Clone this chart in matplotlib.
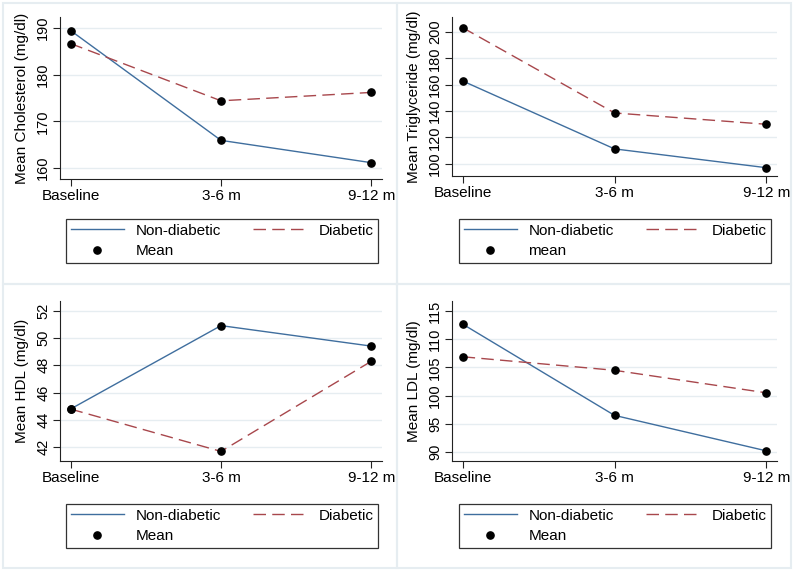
import numpy as np
import matplotlib
matplotlib.use("Agg")
import matplotlib.pyplot as plt
from matplotlib.lines import Line2D

plt.rcParams["font.family"] = ["Liberation Sans", "DejaVu Sans"]

# ---- data ----
periods = ["Baseline", "3-6 m", "9-12 m"]

chol_nondiab = [189.5, 165.9, 161.1]
chol_diab = [186.7, 174.4, 176.2]

trig_nondiab = [162.8, 111.2, 96.9]
trig_diab = [203.3, 138.5, 129.9]

hdl_nondiab = [44.8, 50.9, 49.4]
hdl_diab = [44.8, 41.7, 48.3]

ldl_nondiab = [112.7, 96.5, 90.2]
ldl_diab = [106.9, 104.5, 100.5]

panels = [
    # (non-diab, diab, ylabel, yticks, ylim, marker label)
    (chol_nondiab, chol_diab, "Mean Cholesterol (mg/dl)", [160, 170, 180, 190], (157.6, 192.4), "Mean"),
    (trig_nondiab, trig_diab, "Mean Triglyceride (mg/dl)", [100, 120, 140, 160, 180, 200], (90.6, 211.4), "mean"),
    (hdl_nondiab, hdl_diab, "Mean HDL (mg/dl)", [42, 44, 46, 48, 50, 52], (41.0, 52.7), "Mean"),
    (ldl_nondiab, ldl_diab, "Mean LDL (mg/dl)", [90, 95, 100, 105, 110, 115], (88.4, 116.8), "Mean"),
]

W, H = 794, 571
BLUE = "#3f6e9e"
RED = "#a8474c"
GRID = "#e6edf1"
FS = 11

fig = plt.figure(figsize=(W / 100, H / 100), dpi=100)


def frac(l, t, r, b):
    """pixel box (left, top, right, bottom) -> figure fraction rect"""
    return [l / W, 1 - b / H, (r - l) / W, (b - t) / H]


# panel frames (light lines like the Stata graph region)
for (l, t, r, b) in [(3, 3, 397, 284), (397, 3, 791, 284),
                     (3, 284, 397, 568), (397, 284, 791, 568)]:
    fig.patches.append(plt.Rectangle((l / W, 1 - b / H), (r - l) / W, (b - t) / H,
                                     transform=fig.transFigure, fill=False,
                                     edgecolor=GRID, lw=1.5))

axes_px = [(60, 17, 382, 179), (452, 17, 777, 176),
           (60, 301, 382, 461), (452, 301, 777, 461)]
legend_px = [(66, 212, 378, 263), (459, 212, 771, 263),
             (66, 497, 378, 548), (459, 497, 771, 548)]

x = np.arange(len(periods))
for (nd, d, ylab, yt, yl, mlab), apx, lpx in zip(panels, axes_px, legend_px):
    ax = fig.add_axes(frac(*apx))
    ax.plot(x, nd, color=BLUE, lw=1.0, zorder=3)
    ax.plot(x, d, color=RED, lw=1.0, dashes=(9, 4.5), zorder=3)
    ax.plot(x, nd, "o", color="black", ms=5.2, zorder=4)
    ax.plot(x, d, "o", color="black", ms=5.2, zorder=4)
    ax.set_xlim(-0.07, 2.07)
    ax.set_ylim(*yl)
    ax.set_xticks(x)
    ax.set_xticklabels(periods, fontsize=FS)
    ax.set_yticks(yt)
    ax.set_yticklabels([str(v) for v in yt], fontsize=FS - 0.5, rotation=90, va="center")
    ax.set_ylabel(ylab, fontsize=FS, labelpad=5)
    ax.grid(axis="y", color=GRID, lw=1.0)
    ax.set_axisbelow(True)
    for s in ("top", "right"):
        ax.spines[s].set_visible(False)
    for s in ("left", "bottom"):
        ax.spines[s].set_linewidth(0.8)
        ax.spines[s].set_color("#222222")
    ax.tick_params(length=5, width=0.8, color="#222222", pad=2)

    handles = [Line2D([], [], color=BLUE, lw=1.0),
               Line2D([], [], ls="none", marker="o", color="black", ms=5.2),
               Line2D([], [], color=RED, lw=1.0, dashes=(9, 4.5))]
    labels = ["Non-diabetic", mlab, "Diabetic"]
    l, t, r, b = lpx
    leg = fig.legend(handles, labels, ncol=2, mode="expand", fontsize=FS,
                     bbox_to_anchor=(l / W, 1 - b / H, (r - l) / W, (b - t) / H),
                     loc="lower left", borderaxespad=0, fancybox=False,
                     edgecolor="black", handlelength=3.5, handletextpad=0.75,
                     labelspacing=0.45, borderpad=0.3, columnspacing=1.5)
    leg.get_frame().set_linewidth(0.9)

fig.savefig("out.png", dpi=100)
